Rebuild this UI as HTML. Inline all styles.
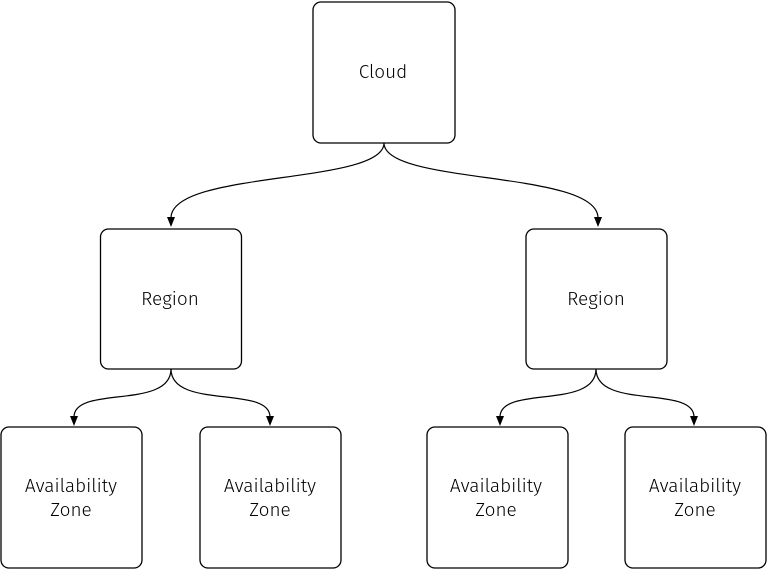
<!DOCTYPE html>
<html><head><style>
body{margin:0;background:#fff;width:767px;height:569px;overflow:hidden;font-family:"Fira Sans","Liberation Sans",sans-serif}
</style></head><body>
<svg width="767" height="569" xmlns="http://www.w3.org/2000/svg">
<g fill="#fff" stroke="#000" stroke-width="1.3">
<rect x="313" y="2" width="142" height="141" rx="8"/>
<rect x="100.5" y="229" width="141" height="140" rx="8"/>
<rect x="526" y="229" width="141" height="140" rx="8"/>
<rect x="1" y="427" width="141" height="141" rx="8"/>
<rect x="200" y="427" width="141" height="141" rx="8"/>
<rect x="427" y="427" width="141" height="141" rx="8"/>
<rect x="625" y="427" width="141" height="141" rx="8"/>
</g>
<g fill="none" stroke="#000" stroke-width="1.2">
<path d="M384,143 C384,185 171,170 171,218"/>
<path d="M384,143 C384,185 598,170 598,218"/>
<path d="M171,369 C171,410 74,385 74,417"/>
<path d="M171,369 C171,410 270,385 270,417"/>
<path d="M596,369 C596,410 500,385 500,417"/>
<path d="M596,369 C596,410 694,385 694,417"/>
</g>
<g fill="#000">
<path d="M167,217 L175,217 L171,227 Z"/>
<path d="M594,217 L602,217 L598,227 Z"/>
<path d="M70,416 L78,416 L74,426 Z"/>
<path d="M266,416 L274,416 L270,426 Z"/>
<path d="M496,416 L504,416 L500,426 Z"/>
<path d="M690,416 L698,416 L694,426 Z"/>
</g>
<g font-size="19" font-weight="300" text-anchor="middle" fill="#000">
<text x="383" y="78">Cloud</text>
<text x="170" y="305">Region</text>
<text x="596" y="305">Region</text>
<text x="71" y="492">Availability</text><text x="71" y="516">Zone</text>
<text x="270" y="492">Availability</text><text x="270" y="516">Zone</text>
<text x="496" y="492">Availability</text><text x="496" y="516">Zone</text>
<text x="695" y="492">Availability</text><text x="695" y="516">Zone</text>
</g>
</svg>
</body></html>
